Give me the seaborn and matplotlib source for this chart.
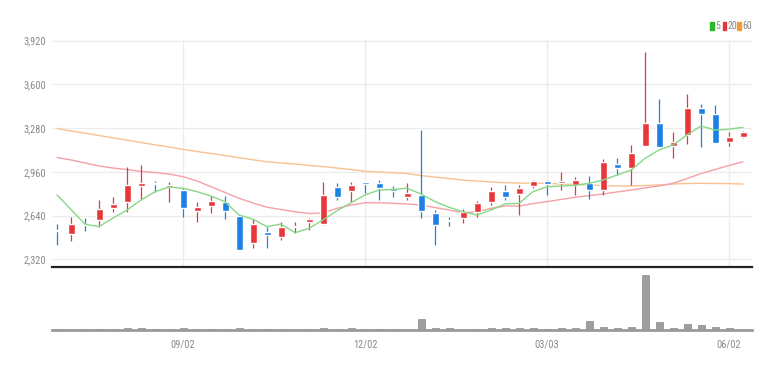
import numpy as np
import pandas as pd
import matplotlib
matplotlib.use('Agg')
import matplotlib.pyplot as plt
from matplotlib import font_manager
from matplotlib.patches import Rectangle
import seaborn as sns
sns.set_style('white')

# the reference uses a condensed face, take a narrow one when it is there
installed = {f.name for f in font_manager.fontManager.ttflist}
narrow = [n for n in ['Liberation Sans Narrow', 'Roboto Condensed', 'Open Sans Condensed'] if n in installed]
plt.rcParams['font.family'] = narrow + ['DejaVu Sans']
FS = 7.5 if narrow else 6.8

# weekly candles
opens = [2535, 2505, 2580, 2608, 2693, 2742, 2857, 2880, 2847, 2827,
         2676, 2710, 2742, 2639, 2442, 2520, 2481, 2554, 2593, 2578,
         2847, 2822, 2886, 2876, 2832, 2778, 2788, 2661, 2605, 2620,
         2668, 2742, 2822, 2798, 2857, 2893, 2881, 2864, 2876, 2827,
         3015, 2986, 3149, 3316, 3149, 3230, 3430, 3381, 3181, 3213]
closes = [2525, 2576, 2570, 2690, 2725, 2864, 2881, 2868, 2864, 2693,
          2701, 2749, 2676, 2388, 2578, 2496, 2554, 2566, 2613, 2788,
          2774, 2862, 2871, 2842, 2820, 2803, 2676, 2571, 2598, 2668,
          2734, 2822, 2774, 2840, 2893, 2869, 2891, 2900, 2827, 3034,
          2990, 3096, 3316, 3140, 3181, 3430, 3384, 3174, 3213, 3254]
highs = [2578, 2627, 2620, 2754, 2778, 2998, 3010, 2891, 2884, 2840,
         2742, 2783, 2783, 2645, 2613, 2554, 2595, 2595, 2620, 2888,
         2876, 2886, 2886, 2900, 2857, 2876, 3266, 2681, 2632, 2686,
         2747, 2851, 2864, 2864, 2900, 2900, 2957, 2920, 2930, 3052,
         3059, 3157, 3840, 3491, 3254, 3530, 3457, 3450, 3254, 3260]
lows = [2425, 2456, 2527, 2559, 2668, 2668, 2760, 2813, 2742, 2632,
        2595, 2661, 2613, 2385, 2400, 2400, 2461, 2515, 2534, 2571,
        2754, 2742, 2808, 2754, 2778, 2754, 2620, 2425, 2564, 2583,
        2632, 2717, 2754, 2644, 2840, 2791, 2827, 2791, 2761, 2791,
        2937, 2864, 3149, 3140, 3059, 3164, 3140, 3170, 3149, 3208]

ma5 = [2791, 2684, 2577, 2559, 2622, 2681, 2754, 2815, 2849, 2840,
       2815, 2783, 2742, 2644, 2613, 2559, 2578, 2515, 2547, 2608,
       2676, 2734, 2791, 2827, 2832, 2840, 2798, 2742, 2701, 2668,
       2644, 2681, 2725, 2730, 2815, 2851, 2857, 2862, 2876, 2900,
       2937, 2973, 3059, 3120, 3157, 3230, 3296, 3266, 3272, 3286]
ma20 = [3065, 3047, 3025, 3003, 2988, 2977, 2963, 2955, 2944, 2925,
        2893, 2851, 2809, 2767, 2732, 2701, 2685, 2668, 2655, 2659,
        2693, 2717, 2734, 2734, 2730, 2725, 2717, 2699, 2681, 2661,
        2668, 2693, 2710, 2710, 2728, 2742, 2758, 2774, 2786, 2798,
        2813, 2827, 2842, 2857, 2876, 2911, 2948, 2977, 3007, 3034]
ma60 = [3277, 3259, 3243, 3226, 3209, 3192, 3175, 3158, 3142, 3124,
        3109, 3094, 3080, 3064, 3048, 3034, 3025, 3018, 3007, 2999,
        2988, 2977, 2965, 2959, 2954, 2948, 2933, 2922, 2911, 2900,
        2893, 2886, 2881, 2878, 2877, 2876, 2871, 2867, 2864, 2860,
        2857, 2857, 2860, 2864, 2871, 2875, 2876, 2875, 2874, 2871]
volume = [0.5, 0.5, 0.5, 0.5, 0.5, 1.5, 1.2, 0.5, 0.5, 1.2,
          0.5, 0.5, 0.5, 1.2, 0.5, 0.5, 0.5, 0.5, 0.5, 1.2,
          0.5, 1.2, 0.5, 0.5, 0.5, 0.5, 11, 1.5, 1.5, 0.5,
          0.5, 1.2, 1.2, 1.2, 1.2, 0.5, 1.2, 1.2, 9, 3,
          1.5, 3, 55, 8, 1.5, 6, 5, 3, 1.5, 0.5]

tick_pos = [9, 22, 35, 48]
tick_labels = ['09/02', '12/02', '03/03', '06/02']
price_ticks = [2320, 2640, 2960, 3280, 3600, 3920]

RED = '#e8363b'
BLUE = '#1d80e6'

df = pd.DataFrame({'x': np.arange(len(opens)), 'open': opens, 'close': closes,
                   'high': highs, 'low': lows, 'ma5': ma5, 'ma20': ma20,
                   'ma60': ma60, 'volume': volume})
df['color'] = np.where(df['close'] >= df['open'], RED, BLUE)
df['body'] = (df['close'] - df['open']).abs().clip(lower=12)
df['bottom'] = df[['open', 'close']].min(axis=1)

W, H = 783, 370
fig = plt.figure(figsize=(W / 100, H / 100), dpi=100)
ax = fig.add_axes([52 / W, 1 - 266.7 / H, 700 / W, (266.7 - 40) / H])
axv = fig.add_axes([52 / W, 1 - 329.5 / H, 700 / W, 60 / H])

# price pane
ax.vlines(df['x'], df['low'], df['high'], colors=df['color'], lw=0.9, zorder=3)
ax.bar(df['x'], df['body'], bottom=df['bottom'], width=0.5, color=df['color'], zorder=4)
sns.lineplot(data=df, x='x', y='ma60', ax=ax, color='#f9c190', lw=1.0, zorder=2)
sns.lineplot(data=df, x='x', y='ma20', ax=ax, color='#f4a0a8', lw=1.0, zorder=2)
sns.lineplot(data=df, x='x', y='ma5', ax=ax, color='#86d886', lw=1.0, zorder=5)

ax.set_xlim(-0.36, 49.64)
ax.set_ylim(2266, 3925)
ax.set_yticks(price_ticks)
ax.set_yticklabels([f'{v:,}' for v in price_ticks], color='#8a8a8a', fontsize=FS)
ax.set_xticks(tick_pos)
ax.set_xticklabels([])
ax.tick_params(length=0, pad=4)
ax.grid(axis='both', color='#ececec', lw=1.0)
ax.set_axisbelow(True)
ax.set_xlabel('')
ax.set_ylabel('')
for s in ['top', 'right', 'left']:
    ax.spines[s].set_visible(False)
ax.spines['bottom'].set_color('#222222')
ax.spines['bottom'].set_linewidth(1.6)

# volume pane
axv.bar(df['x'], df['volume'], width=0.5, color='#9e9e9e', edgecolor='#8a8a8a', lw=0.5)
axv.set_xlim(-0.36, 49.64)
axv.set_ylim(0, 60)
axv.set_yticks([])
axv.set_xticks(tick_pos)
axv.set_xticklabels(tick_labels, color='#8a8a8a', fontsize=FS)
axv.tick_params(axis='x', length=3, width=0.8, color='#444444', pad=4)
for s in ['top', 'right', 'left']:
    axv.spines[s].set_visible(False)
axv.spines['bottom'].set_color('#9a9a9a')
axv.spines['bottom'].set_linewidth(2)

# legend in the top right corner
for x0, col, lab in [(710, '#2db52d', '5'), (722.5, RED, '20'), (737, '#f59a36', '60')]:
    fig.add_artist(Rectangle((x0 / W, 1 - 30 / H), 3.5 / W, 8 / H,
                             transform=fig.transFigure, color=col))
    fig.text((x0 + 5) / W, 1 - 26 / H, lab, fontsize=FS - 0.5, color='#8a8a8a', va='center')

fig.savefig('out.png', dpi=100, facecolor='white')
